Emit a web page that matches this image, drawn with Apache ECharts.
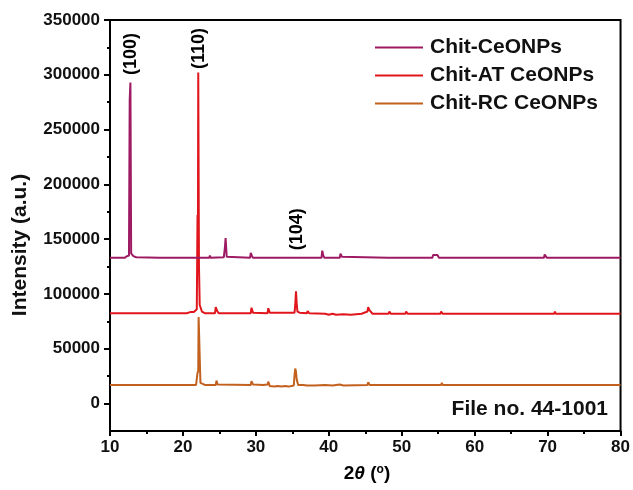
<!DOCTYPE html>
<html>
<head>
<meta charset="utf-8">
<script src="https://cdn.jsdelivr.net/npm/echarts@6/dist/echarts.min.js"></script>
<style>
  html, body { margin: 0; padding: 0; background: #fff; }
  #chart { width: 633px; height: 490px; }
</style>
</head>
<body>
<div id="chart"></div>
<script>
// XRD patterns, [2theta (deg), intensity (a.u., stacked offset included)]
const chitCeONPs = [
  [10,133000],[12.0,133000],[12.3,134500],[12.6,135000],[12.7,277000],[12.8,293000],[12.9,137000],
  [13.2,134500],[13.6,133500],[16.8,133000],[16.9,134500],[17.0,133000],[18.6,133000],[18.7,134000],
  [18.8,133000],[22.0,133000],[22.1,134500],[22.2,133000],[23.6,133000],[23.7,135000],[23.8,133000],
  [25.6,133500],[25.75,142000],[25.85,151000],[26.0,134000],[26.2,133000],
  [29.2,133000],[29.3,137500],[29.45,135000],[29.6,133000],[30.9,133000],[31.0,134500],[31.1,133000],
  [39.0,133000],[39.1,139500],[39.25,135000],[39.4,133000],[41.5,133000],[41.6,136800],[41.8,134000],
  [41.9,133000],[48.1,133000],[48.2,134500],[48.3,133000],[54.2,133000],[54.3,135500],[54.5,134000],
  [54.9,135500],[55.1,133000],[64.0,133000],[64.1,134200],[64.2,133000],[69.5,133000],[69.6,136000],
  [69.8,135000],[69.9,133000],[78.2,133000],[78.3,134200],[78.4,133000],[80,133000]
];
const chitATCeONPs = [
  [10,82500],[20.5,82500],[20.7,84000],[21.0,83500],[21.5,83500],[21.9,86000],[22.0,172000],[22.05,135000],
  [22.1,302000],[22.2,125000],[22.3,90000],[22.6,84000],[23.0,82500],[24.4,82500],[24.5,88000],
  [24.7,84500],[24.9,82500],[29.3,82500],[29.4,87500],[29.6,83000],[31.6,82500],[31.7,87000],
  [31.9,83000],[35.3,83000],[35.4,90000],[35.5,102500],[35.6,91000],[35.7,84000],[36.0,83000],
  [37.0,82500],[37.1,84500],[37.3,82500],[39.5,82000],[40.0,81000],[40.5,82000],[41.0,81000],
  [42.0,81500],[43.0,81000],[44.5,82000],[45.3,84000],[45.4,88000],[45.6,85000],[46.0,82000],
  [48.2,82000],[48.3,84000],[48.5,82000],[50.5,82000],[50.6,84000],[50.8,82000],[52.0,82000],
  [52.1,83500],[52.3,82000],[53.2,82000],[53.3,83500],[53.5,82000],[55.3,82000],[55.4,84000],
  [55.6,82000],[57.6,82000],[57.7,83500],[57.8,82000],[59.0,82000],[59.1,83800],[59.2,82000],
  [69.5,82000],[69.6,83800],[69.7,82000],[70.9,82000],[71.0,84000],[71.1,82000],[75.4,82000],
  [75.5,83800],[75.6,82000],[80,82000]
];
const chitRCCeONPs = [
  [10,17000],[21.8,17000],[21.9,18500],[22.0,28000],[22.1,30000],[22.15,79000],[22.3,78000],
  [22.4,19000],[22.6,17500],[23.0,17000],[24.5,17000],[24.6,21000],[24.75,17500],[24.9,17000],
  [29.3,17000],[29.4,20500],[29.6,17500],[31.0,17000],[31.2,16000],[31.6,17500],[31.7,20000],
  [31.9,16000],[32.5,15500],[33.0,16000],[33.5,15500],[34.0,16000],[34.5,15500],[35.2,16500],
  [35.3,26000],[35.4,32000],[35.5,29000],[35.6,22000],[35.8,17000],[36.5,17000],[37.0,16500],
  [38.0,16500],[39.5,17000],[40.5,16500],[41.5,17500],[42.0,16500],[45.3,17000],[45.4,19500],
  [45.6,17000],[49.4,17000],[49.5,18500],[49.6,17000],[52.0,17000],[52.1,18000],[52.2,17000],
  [55.4,17000],[55.5,19000],[55.6,17000],[70.8,17000],[70.9,18500],[71.0,17000],[75.4,17000],
  [75.5,18500],[75.6,17000],[80,17000]
];

const seriesNames = ['Chit-CeONPs', 'Chit-AT CeONPs', 'Chit-RC CeONPs'];
const seriesColors = ['#9e1a62', '#e0161c', '#c2611f'];

// Axis tick positions
const xTicks = [10, 20, 30, 40, 50, 60, 70, 80];
const yMajorTicks = [0, 50000, 100000, 150000, 200000, 250000, 300000, 350000];
const yMinorTicks = [25000, 75000, 125000, 175000, 225000, 275000, 325000];

// Miller indices of the labelled reflections: [label, 2theta, intensity at label centre]
const peakLabels = [
  ['(100)', 12.9, 319000],
  ['(110)', 22.2, 324000],
  ['(104)', 35.6, 159000]
];

const FONT = 'Liberation Sans, Arial, sans-serif';
const chart = echarts.init(document.getElementById('chart'), null, { renderer: 'canvas' });

const dataSets = [chitCeONPs, chitATCeONPs, chitRCCeONPs];

const option = {
  animation: false,
  backgroundColor: '#fff',
  grid: {
    left: 110, right: 11, top: 20, bottom: 59,
    show: true, borderColor: '#000', borderWidth: 2, containLabel: false
  },
  legend: {
    orient: 'vertical',
    left: 375, top: 37,
    padding: 0,
    itemWidth: 48, itemHeight: 2,
    itemGap: 7,
    icon: 'rect',
    data: seriesNames,
    textStyle: { fontFamily: FONT, fontWeight: 'bold', fontSize: 21, color: '#111', padding: [0, 0, 0, 2] }
  },
  xAxis: {
    type: 'value', min: 10, max: 80, interval: 10,
    axisLine: { show: true, onZero: false, lineStyle: { color: '#000', width: 2 } },
    axisTick: { show: true, inside: false, length: 5, lineStyle: { color: '#000', width: 2 } },
    minorTick: { show: true, splitNumber: 2, length: 3, lineStyle: { color: '#000', width: 2 } },
    axisLabel: { margin: 8, fontFamily: FONT, fontWeight: 'bold', fontSize: 17, color: '#111',
      customValues: xTicks },
    splitLine: { show: false }, minorSplitLine: { show: false }
  },
  yAxis: [
    {
      type: 'value', min: -25000, max: 350000,
      axisLine: { show: true, onZero: false, lineStyle: { color: '#000', width: 2 } },
      axisTick: { show: true, length: 6, lineStyle: { color: '#000', width: 2 }, customValues: yMajorTicks },
      axisLabel: { margin: 10, fontFamily: FONT, fontWeight: 'bold', fontSize: 17, color: '#111',
        customValues: yMajorTicks, formatter: v => String(v) },
      splitLine: { show: false }
    },
    {
      type: 'value', min: -25000, max: 350000, position: 'left',
      axisLine: { show: false, onZero: false },
      axisTick: { show: true, length: 3, lineStyle: { color: '#000', width: 2 }, customValues: yMinorTicks },
      axisLabel: { show: false },
      splitLine: { show: false }
    }
  ],
  series: seriesNames.map((name, i) => ({
    name: name,
    type: 'line',
    data: dataSets[i],
    symbol: 'none',
    color: seriesColors[i],
    lineStyle: { width: 2, color: seriesColors[i] },
    z: 3 - i
  })).concat([{
    type: 'scatter',
    symbolSize: 0,
    silent: true,
    itemStyle: { opacity: 1 },
    data: peakLabels.map(p => ({ value: [p[1], p[2]], name: p[0] })),
    label: {
      show: true, position: 'inside', rotate: 90,
      formatter: p => p.name,
      fontFamily: FONT, fontWeight: 'bold', fontSize: 18, color: '#000', opacity: 1,
      textBorderWidth: 0
    }
  }]),
  graphic: [
    {
      type: 'text', silent: true,
      x: 20, y: 245, rotation: Math.PI / 2,
      style: {
        text: 'Intensity (a.u.)', fill: '#111',
        font: 'bold 21px ' + FONT,
        align: 'center', verticalAlign: 'middle'
      }
    },
    {
      type: 'text', silent: true,
      x: 608, y: 409,
      style: {
        text: 'File no. 44-1001', fill: '#111',
        font: 'bold 21px ' + FONT,
        align: 'right', verticalAlign: 'middle'
      }
    },
    {
      type: 'text', silent: true,
      x: 367, y: 474,
      style: {
        text: '{a|2}{b|θ}{a| (}{c|o}{a|)}',
        align: 'center', verticalAlign: 'middle',
        rich: {
          a: { fontFamily: FONT, fontWeight: 'bold', fontSize: 19, color: '#111' },
          b: { fontFamily: FONT, fontWeight: 'bold', fontStyle: 'italic', fontSize: 19, color: '#111' },
          c: { fontFamily: FONT, fontWeight: 'bold', fontSize: 12, color: '#111', padding: [0, 0, 9, 0] }
        }
      }
    }
  ]
};

chart.setOption(option);
</script>
</body>
</html>
